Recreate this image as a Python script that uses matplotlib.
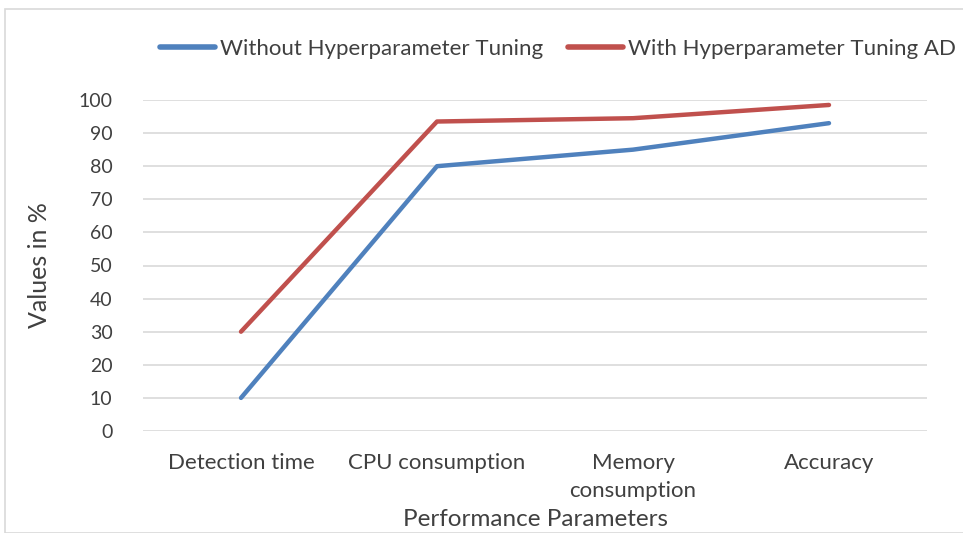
import matplotlib
matplotlib.use("Agg")
import matplotlib.pyplot as plt
from matplotlib.patches import Rectangle

categories = ["Detection time", "CPU consumption", "Memory\nconsumption", "Accuracy"]
without_tuning = [10, 80, 85, 93]
with_tuning = [30, 93.5, 94.5, 98.5]
series_names = ["Without Hyperparameter Tuning", "With Hyperparameter Tuning AD"]
yticks = list(range(0, 101, 10))

plt.rcParams['font.family'] = ['Lato', 'DejaVu Sans']

fig = plt.figure(figsize=(9.63, 5.33), dpi=100)
ax = fig.add_axes([143/963, 1 - 431/533, (927-143)/963, (431-100)/533])

x = list(range(len(categories)))
ax.plot(x, without_tuning, color="#4f81bd", lw=3.2, solid_capstyle="round", label=series_names[0], zorder=3)
ax.plot(x, with_tuning, color="#c0504d", lw=3.2, solid_capstyle="round", label=series_names[1], zorder=3)

ax.set_xlim(-0.5, len(categories) - 0.5)
ax.set_ylim(0, 100)
ax.set_yticks(yticks)
ax.set_xticks(x)
ax.set_xticklabels(categories, fontsize=16, color="#404040")
ax.tick_params(axis='y', labelsize=14, labelcolor="#404040", length=0, pad=22)
ax.tick_params(axis='x', length=0, pad=16)
for t in ax.get_xticklabels():
    t.set_linespacing(1.5)
ax.grid(axis='y', color="#d9d9d9", lw=1.2)
ax.set_axisbelow(True)
for s in ax.spines.values():
    s.set_visible(False)

ax.set_ylabel("Values in %", fontsize=18, color="#404040", labelpad=20)
fig.text(535/963, 1 - 520/533, "Performance Parameters", fontsize=17.5, color="#404040", ha="center", va="center")

leg = fig.legend(loc="center", bbox_to_anchor=(558/963, 1 - 49/533), ncol=2, frameon=False,
                 fontsize=16, handlelength=2.5, columnspacing=1.1, handletextpad=0.22, labelcolor="#404040")
for line in leg.get_lines():
    line.set_linewidth(4)

fig.patches.append(Rectangle((5/963, 0), 1.2, 1 - 9/533, transform=fig.transFigure,
                             fill=False, edgecolor="#d9d9d9", lw=1.2))

fig.savefig("out.png", dpi=100)
